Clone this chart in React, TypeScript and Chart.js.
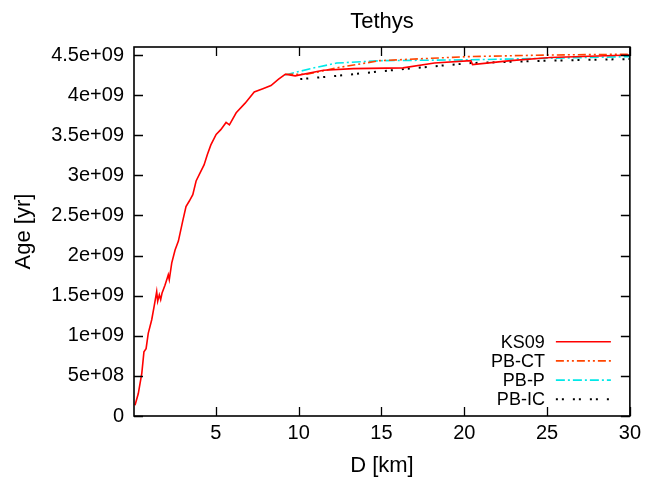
import React, { useEffect, useRef } from "react";
import { Chart, registerables } from "chart.js";

Chart.register(...registerables);

const titleText = "Tethys";
const xLabel = "D [km]";
const yLabel = "Age [yr]";
const xTicks = [5, 10, 15, 20, 25, 30];
const yTicks = [0, 5e8, 1e9, 1.5e9, 2e9, 2.5e9, 3e9, 3.5e9, 4e9, 4.5e9];

const ks09D = [0.12, 0.32, 0.53, 0.66, 0.79, 0.92, 1.13, 1.27, 1.43, 1.49, 1.59, 1.67, 1.75, 1.93, 2.07, 2.13, 2.19, 2.34, 2.54, 2.74, 3.0, 3.2, 3.4, 3.61, 3.81, 4.05, 4.29, 4.49, 4.7, 5.02, 5.3, 5.62, 5.82, 6.23, 6.77, 7.32, 7.84, 8.33, 8.79, 9.19, 9.79, 11.5, 13.3, 16.3, 18.2, 20.4, 20.5, 22.8, 25.2, 30];
const ks09Age = [0.134e9, 0.28e9, 0.53e9, 0.8e9, 0.84e9, 1.03e9, 1.2e9, 1.36e9, 1.55e9, 1.43e9, 1.51e9, 1.45e9, 1.53e9, 1.63e9, 1.72e9, 1.76e9, 1.7e9, 1.91e9, 2.07e9, 2.18e9, 2.43e9, 2.61e9, 2.68e9, 2.76e9, 2.93e9, 3.03e9, 3.13e9, 3.26e9, 3.38e9, 3.51e9, 3.57e9, 3.66e9, 3.63e9, 3.78e9, 3.9e9, 4.04e9, 4.08e9, 4.12e9, 4.2e9, 4.26e9, 4.24e9, 4.31e9, 4.33e9, 4.34e9, 4.4e9, 4.43e9, 4.38e9, 4.43e9, 4.47e9, 4.5e9];

const pbctD = [9.19, 10.5, 12.3, 14.9, 20.2, 25.0, 30];
const pbctAge = [4.26e9, 4.26e9, 4.34e9, 4.43e9, 4.48e9, 4.5e9, 4.51e9];

const pbpD = [9.19, 10.7, 12.3, 15.1, 20.2, 25.2, 30];
const pbpAge = [4.25e9, 4.33e9, 4.4e9, 4.43e9, 4.44e9, 4.46e9, 4.48e9];

const pbicD = [10.1, 12.3, 15.1, 18.2, 20.4, 25.2, 30];
const pbicAge = [4.2e9, 4.24e9, 4.3e9, 4.36e9, 4.4e9, 4.43e9, 4.45e9];

const FONT = '"Liberation Sans", Arial, sans-serif';

function fmtExp(v: number): string {
  if (v === 0) return "0";
  const [m, e] = v.toExponential().split("e");
  const sign = e[0] === "-" ? "-" : "+";
  const d = e.replace(/[+-]/, "");
  return m + "e" + sign + d.padStart(2, "0");
}

function pts(xs: number[], ys: number[]) {
  return xs.map((x, i) => ({ x, y: ys[i] }));
}

const framePlugin = {
  id: "gnuFrame",
  afterDatasetsDraw(chart: any) {
    const { ctx, chartArea } = chart;
    const { left, right, top, bottom } = chartArea;
    const xs = chart.scales.x;
    const ys = chart.scales.y;
    const tl = 9;
    ctx.save();
    ctx.strokeStyle = "#000";
    ctx.lineWidth = 1.3;
    ctx.setLineDash([]);
    ctx.beginPath();
    xTicks.forEach((v) => {
      const px = Math.round(xs.getPixelForValue(v)) + 0.5;
      ctx.moveTo(px, bottom);
      ctx.lineTo(px, bottom - tl);
      ctx.moveTo(px, top);
      ctx.lineTo(px, top + tl);
    });
    yTicks.forEach((v) => {
      const py = Math.round(ys.getPixelForValue(v)) + 0.5;
      ctx.moveTo(left, py);
      ctx.lineTo(left + tl, py);
      ctx.moveTo(right, py);
      ctx.lineTo(right - tl, py);
    });
    ctx.stroke();
    ctx.lineWidth = 1.6;
    ctx.strokeRect(left, top, right - left, bottom - top);

    // legend
    const lineEnd = right - 19;
    const lineStart = right - 74;
    const textRight = right - 85;
    const row0 = bottom - 74.3;
    const step = 19.2;
    ctx.font = "18px " + FONT;
    ctx.textAlign = "right";
    ctx.textBaseline = "middle";
    chart.data.datasets.forEach((ds: any, i: number) => {
      const y = row0 + i * step;
      ctx.fillStyle = "#000";
      ctx.fillText(ds.label, textRight, y + 1);
      ctx.strokeStyle = ds.borderColor;
      ctx.lineWidth = ds.borderWidth;
      ctx.setLineDash(ds.borderDash || []);
      ctx.beginPath();
      ctx.moveTo(lineStart, y);
      ctx.lineTo(lineEnd, y);
      ctx.stroke();
    });
    ctx.restore();
  },
};

export default function App() {
  const ref = useRef<HTMLCanvasElement | null>(null);
  useEffect(() => {
    if (!ref.current) return;
    const chart = new Chart(ref.current, {
      type: "line",
      data: {
        datasets: [
          { label: "KS09", data: pts(ks09D, ks09Age), borderColor: "#ff0000", borderWidth: 1.6, borderDash: [], pointRadius: 0, tension: 0, fill: false },
          { label: "PB-CT", data: pts(pbctD, pbctAge), borderColor: "#ff4500", borderWidth: 1.6, borderDash: [8, 3, 2, 3, 2, 3], pointRadius: 0, tension: 0, fill: false },
          { label: "PB-P", data: pts(pbpD, pbpAge), borderColor: "#00e8e8", borderWidth: 1.6, borderDash: [9, 3, 2, 3], pointRadius: 0, tension: 0, fill: false },
          { label: "PB-IC", data: pts(pbicD, pbicAge), borderColor: "#000000", borderWidth: 2, borderDash: [2, 4, 2, 9], pointRadius: 0, tension: 0, fill: false },
        ],
      },
      options: {
        animation: false,
        responsive: false,
        layout: { padding: { left: 0, right: 16, top: 0, bottom: 0 } },
        plugins: {
          legend: { display: false },
          tooltip: { enabled: false },
          title: {
            display: true,
            text: titleText,
            fullSize: false,
            color: "#000",
            font: { family: FONT, size: 22, weight: "normal" },
            padding: { top: 9, bottom: 11.6 },
          },
        },
        scales: {
          x: {
            type: "linear",
            min: 0.06,
            max: 30,
            afterBuildTicks: (s: any) => {
              s.ticks = xTicks.map((v) => ({ value: v }));
            },
            afterFit: (s: any) => {
              s.height = 63;
            },
            grid: { display: false, drawTicks: false },
            border: { display: false },
            ticks: {
              color: "#000",
              font: { family: FONT, size: 20 },
              padding: 5,
              maxRotation: 0,
              autoSkip: false,
              callback: (v: any) => String(v),
            },
            title: {
              display: true,
              text: xLabel,
              color: "#000",
              font: { family: FONT, size: 22 },
              padding: { top: 0, bottom: 0 },
            },
          },
          y: {
            type: "linear",
            min: 0,
            max: 4.6e9,
            afterBuildTicks: (s: any) => {
              s.ticks = yTicks.map((v) => ({ value: v }));
            },
            afterFit: (s: any) => {
              s.width = 134;
            },
            grid: { display: false, drawTicks: false },
            border: { display: false },
            ticks: {
              color: "#000",
              font: { family: FONT, size: 20 },
              padding: 10,
              autoSkip: false,
              callback: (v: any) => fmtExp(Number(v)),
            },
            title: {
              display: true,
              text: yLabel,
              color: "#000",
              font: { family: FONT, size: 22 },
              padding: { top: 11, bottom: 0 },
            },
          },
        },
      },
      plugins: [framePlugin],
    } as any);
    return () => chart.destroy();
  }, []);
  return (
    <div style={{ position: "absolute", left: 0, top: 0, width: 646, height: 479, background: "#fff" }}>
      <canvas ref={ref} width={646} height={479} style={{ display: "block" }} />
    </div>
  );
}
